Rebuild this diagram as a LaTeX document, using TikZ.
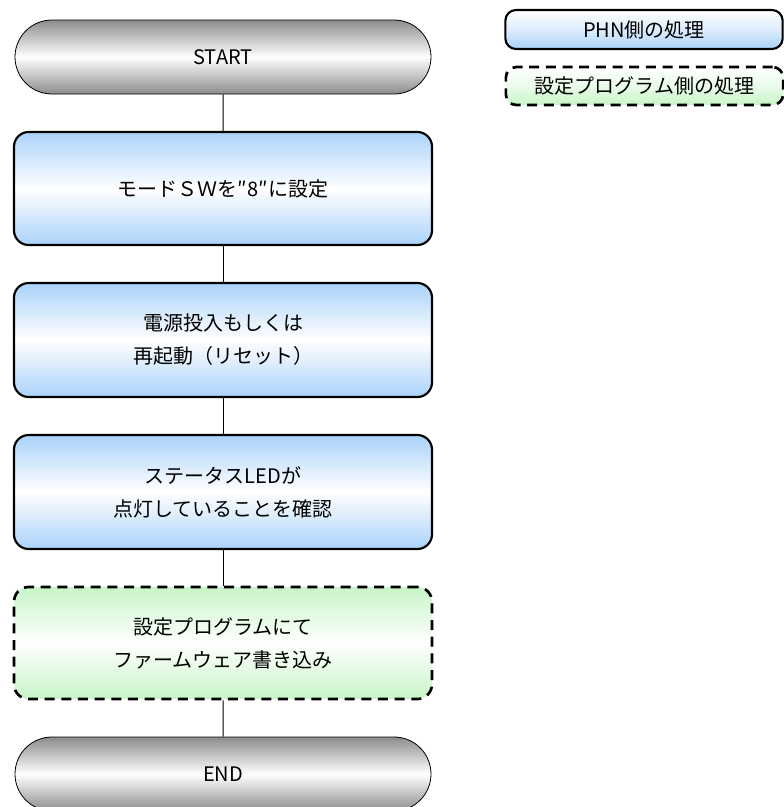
\documentclass[tikz,border=0pt]{standalone}
\usepackage{fontspec}
\setmainfont{Noto Sans CJK JP}
\usepackage{tikz}
\usetikzlibrary{shapes.misc}
\definecolor{boxblue}{RGB}{170,210,250}
\definecolor{boxgreen}{RGB}{200,245,200}
\definecolor{termgray}{RGB}{140,140,140}

\begin{document}
\begin{tikzpicture}[x=0.75pt, y=-0.75pt,
  terminal/.style={rounded rectangle, draw, line width=0.6pt, minimum width=312pt, minimum height=55.5pt, top color=termgray, bottom color=termgray, middle color=white, inner sep=0pt},
  phnbox/.style={draw, line width=1.6pt, rounded corners=11pt, minimum width=313.5pt, top color=boxblue, bottom color=boxblue, middle color=white, align=center, inner sep=0pt},
  progbox/.style={draw, line width=2pt, dash pattern=on 7.5pt off 5pt, rounded corners=11pt, minimum width=313.5pt, top color=boxgreen, bottom color=boxgreen, middle color=white, align=center, inner sep=0pt},
  link/.style={line width=0.75pt},
  font=\fontsize{15}{24.75}\selectfont]
\useasboundingbox (0,0) rectangle (784,807);
% flow
\node[terminal] (start) at (223,57) {START};
\node[phnbox, minimum height=84.75pt] (mode) at (223,188.5) {モードＳＷを″8″に設定};
\node[phnbox, minimum height=85.5pt] (power) at (223,340) {電源投入もしくは\\再起動（リセット）};
\node[phnbox, minimum height=85.5pt] (led) at (223,492) {ステータスLEDが\\点灯していることを確認};
\node[progbox, minimum height=84pt] (write) at (223,643) {設定プログラムにて\\ファームウェア書き込み};
\node[terminal] (end) at (223,774) {END};
\draw[link] (start) -- (mode);
\draw[link] (mode) -- (power);
\draw[link] (power) -- (led);
\draw[link] (led) -- (write);
\draw[link] (write) -- (end);
% legend
\node[phnbox, rounded corners=8pt, minimum width=208pt, minimum height=29.25pt, top color=white, bottom color=boxblue, middle color=white!60!boxblue] (legphn) at (644,29.5) {PHN側の処理};
\node[progbox, rounded corners=8pt, minimum width=208pt, minimum height=28.5pt, top color=white, bottom color=boxgreen, middle color=white!60!boxgreen] (legprog) at (644.5,86) {設定プログラム側の処理};
\end{tikzpicture}
\end{document}
